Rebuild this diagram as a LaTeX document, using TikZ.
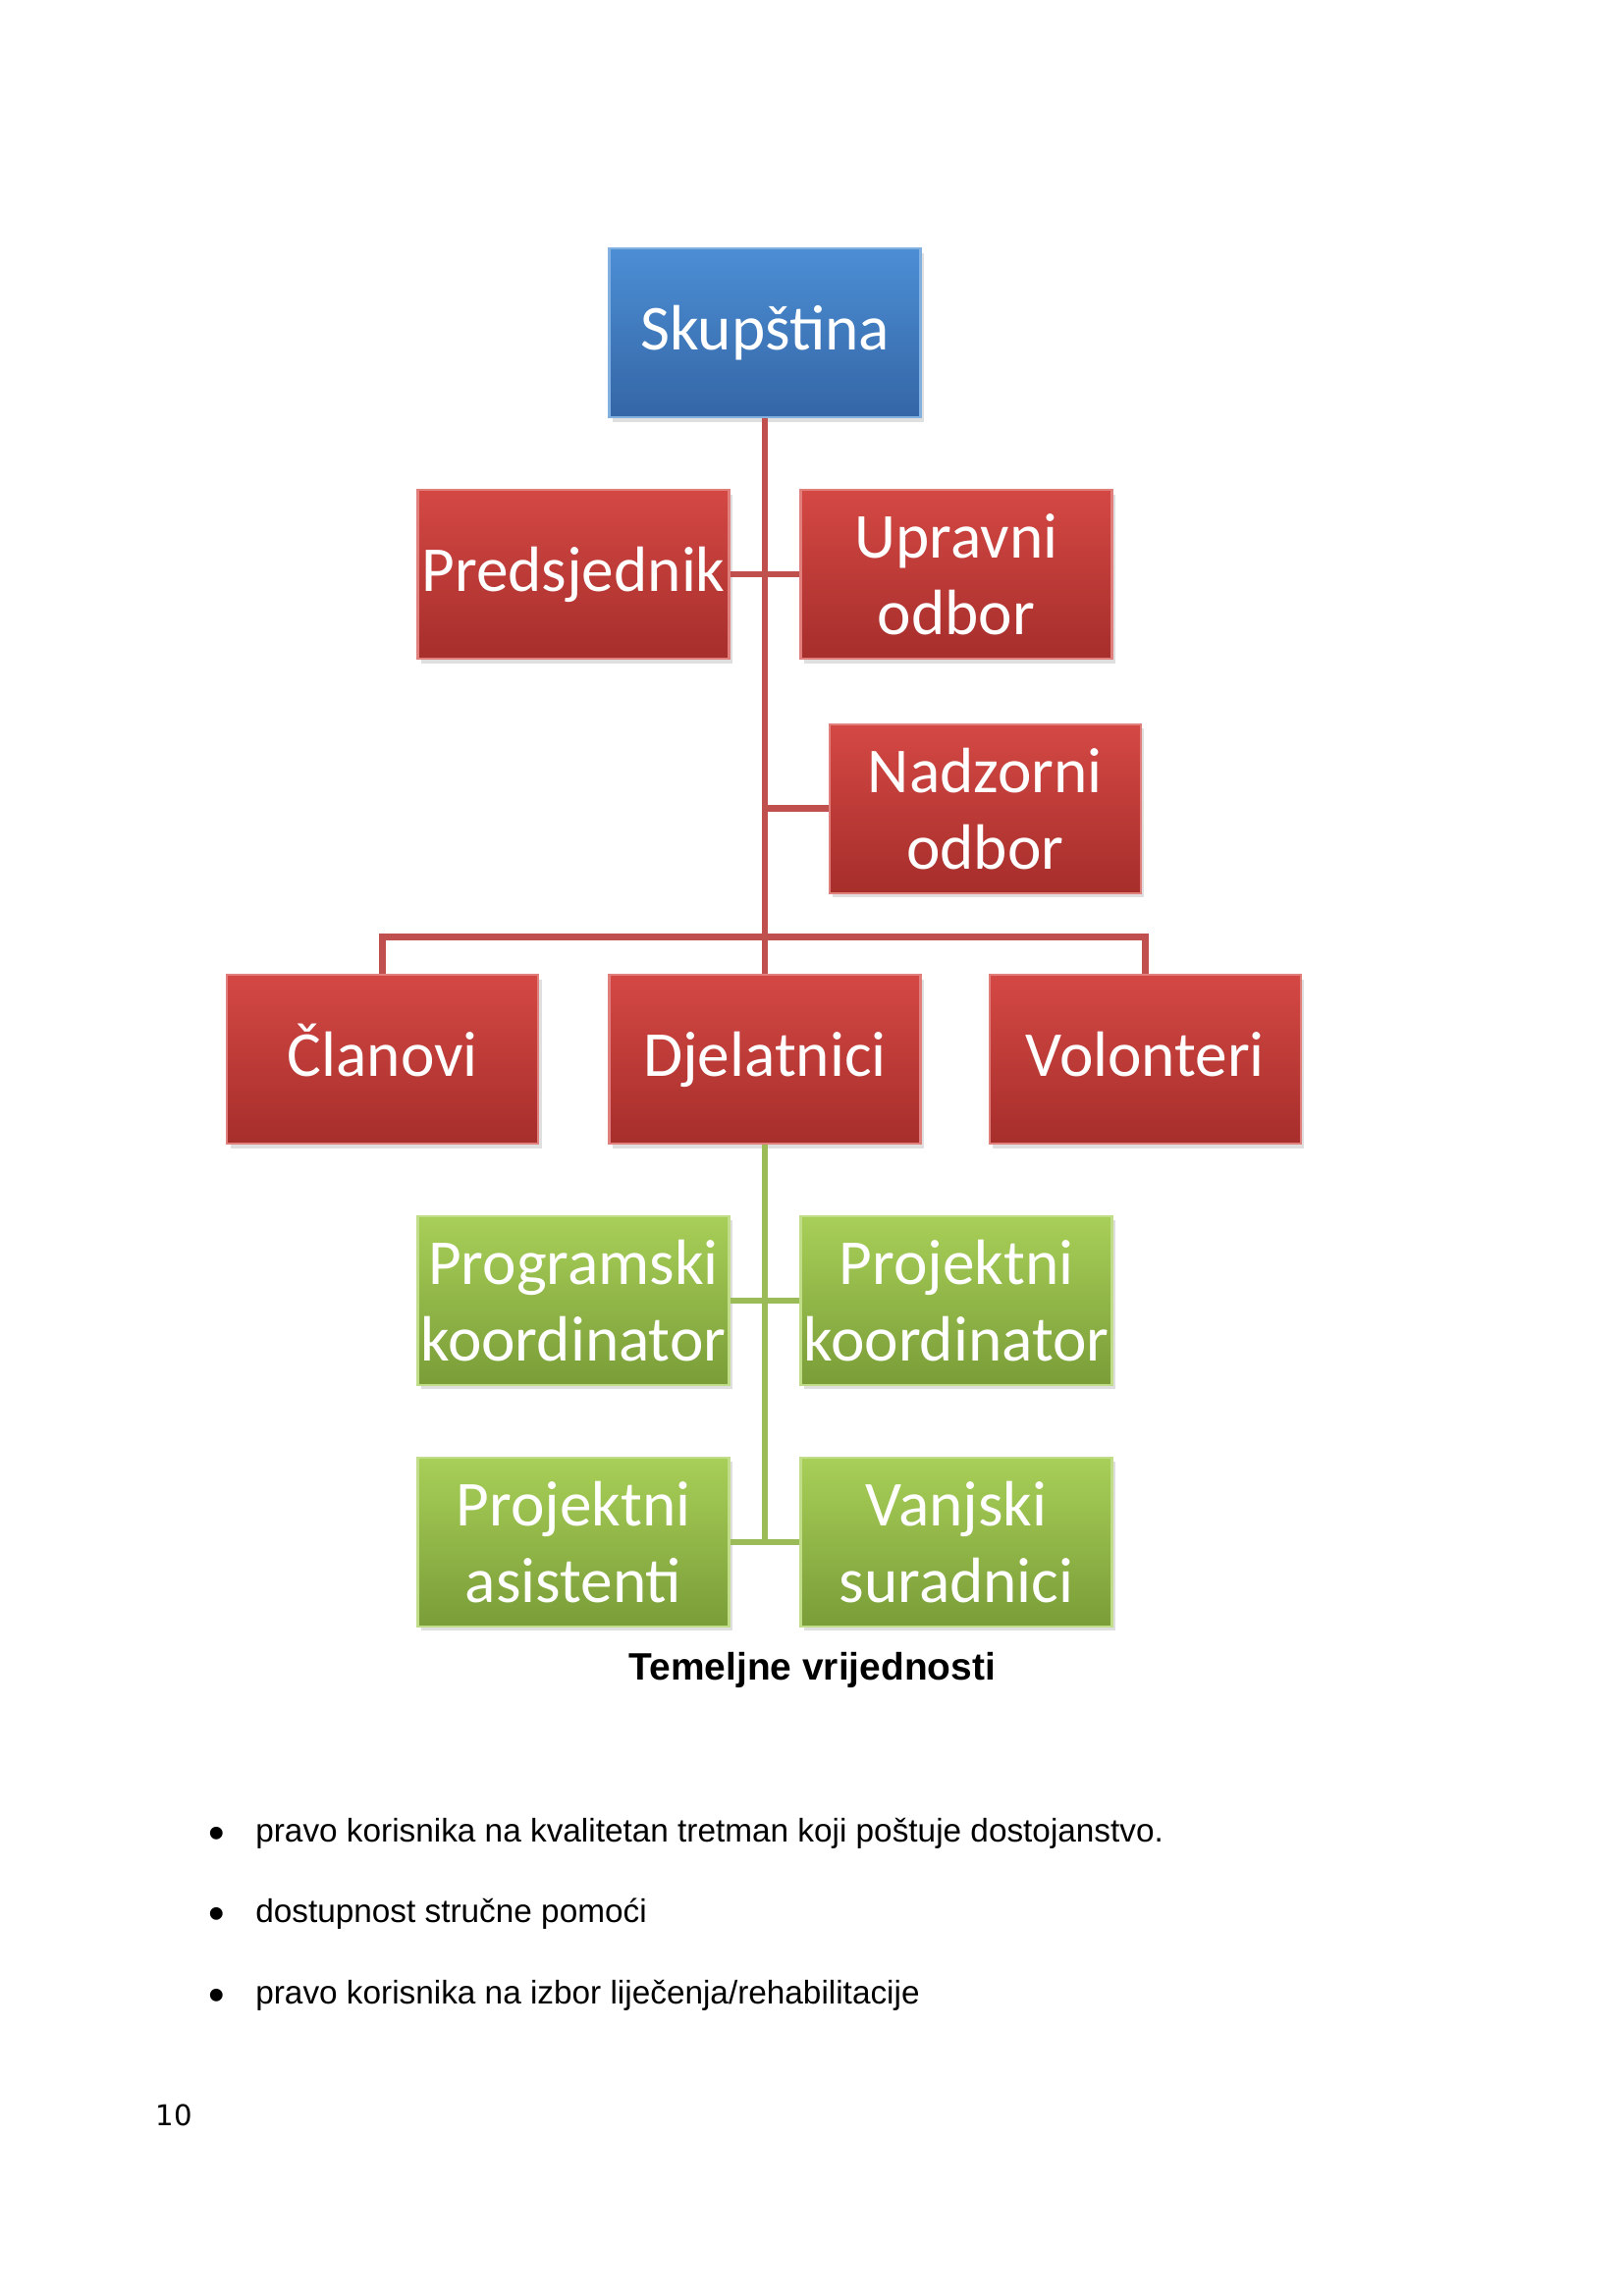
\documentclass[tikz,border=0pt]{standalone}
\usepackage{fontspec}
\setmainfont{Liberation Sans}
\newfontfamily\boxfont{Carlito}
\newfontfamily\pagefont{DejaVu Sans}
\usepackage{tikz}
\usetikzlibrary{shapes,arrows,shadows}
\definecolor{redtop}{RGB}{212,72,68}
\definecolor{redbot}{RGB}{166,46,43}
\definecolor{redline}{RGB}{192,80,77}
\definecolor{bluetop}{RGB}{76,142,212}
\definecolor{bluebot}{RGB}{52,102,166}
\definecolor{greentop}{RGB}{168,207,88}
\definecolor{greenbot}{RGB}{122,157,56}
\definecolor{greenline}{RGB}{155,187,89}
\tikzstyle{orgbox} = [rectangle, minimum width=114.1pt, minimum height=61.9pt, inner sep=0pt, align=center, text=white, font=\boxfont\fontsize{23.5}{28}\selectfont, drop shadow={shadow xshift=1.2pt, shadow yshift=-1.6pt, opacity=0.25}]
\tikzstyle{oneline} = [text height=17pt, text depth=4.8pt]
\tikzstyle{bluebox} = [orgbox, top color=bluetop, bottom color=bluebot, draw=bluetop!70!white, line width=0.8pt]
\tikzstyle{redbox} = [orgbox, top color=redtop, bottom color=redbot, draw=redtop!70!white, line width=0.8pt]
\tikzstyle{greenbox} = [orgbox, top color=greentop, bottom color=greenbot, draw=greentop!70!white, line width=0.8pt]
\tikzstyle{redlink} = [draw=redline, line width=2.4pt]
\tikzstyle{greenlink} = [draw=greenline, line width=2.4pt]
\tikzstyle{bullettext} = [anchor=base west, inner sep=0pt, font=\fontsize{12}{14}\selectfont]
\newcommand{\itemdot}{\makebox[17.2pt][l]{\raisebox{-2.5pt}{\fontsize{17}{17}\selectfont\textbullet}}}

\begin{document}
\begin{tikzpicture}[node distance=88.5pt]
\useasboundingbox (0,0) rectangle (595.28pt,-841.89pt);

\node (skup) [bluebox, oneline] at (280.4pt,-122.1pt) {Skupština};
\node (pred) [redbox, oneline, below of=skup, xshift=-70.2pt] {Predsjednik};
\node (upr) [redbox, below of=skup, xshift=70.2pt] {Upravni\\odbor};
\node (nadz) [redbox, below of=upr, xshift=10.5pt, yshift=2.6pt] {Nadzorni\\odbor};
\node (djel) [redbox, oneline, below of=skup, yshift=-177.8pt] {Djelatnici};
\node (clan) [redbox, oneline, left of=djel, node distance=140.1pt] {Članovi};
\node (vol) [redbox, oneline, right of=djel, node distance=139.4pt] {Volonteri};
\node (prog) [greenbox, below of=djel, xshift=-70.2pt] {Programski\\koordinator};
\node (pkoo) [greenbox, below of=djel, xshift=70.2pt] {Projektni\\koordinator};
\node (asis) [greenbox, below of=prog] {Projektni\\asistenti};
\node (vanj) [greenbox, below of=pkoo] {Vanjski\\suradnici};
\coordinate (split) at ([yshift=13.5pt]djel.north);

\node (caption) [anchor=base, font=\bfseries\fontsize{14}{16}\selectfont] at (297.8pt,-616.0pt) {Temeljne vrijednosti};
\node (item1) [bullettext] at (76.3pt,-675.3pt) {\itemdot pravo korisnika na kvalitetan tretman koji poštuje dostojanstvo.};
\node (item2) [bullettext] at (76.3pt,-704.8pt) {\itemdot dostupnost stručne pomoći};
\node (item3) [bullettext] at (76.3pt,-734.7pt) {\itemdot pravo korisnika na izbor liječenja/rehabilitacije};
\node (pagenum) [anchor=base west, inner sep=0pt, font=\pagefont\fontsize{10.5}{12}\selectfont] at (56.9pt,-779.3pt) {10};

\draw [redlink] (skup.south) -- (djel.north);
\draw [redlink] (pred.east) -- (upr.west);
\draw [redlink] (nadz.west) -- (nadz.west -| skup);
\draw [redlink] (clan.north) |- (split) -| (vol.north);
\draw [greenlink] (djel.south) -- (asis.east -| djel);
\draw [greenlink] (prog.east) -- (pkoo.west);
\draw [greenlink] (asis.east) -- (vanj.west);

\end{tikzpicture}
\end{document}
